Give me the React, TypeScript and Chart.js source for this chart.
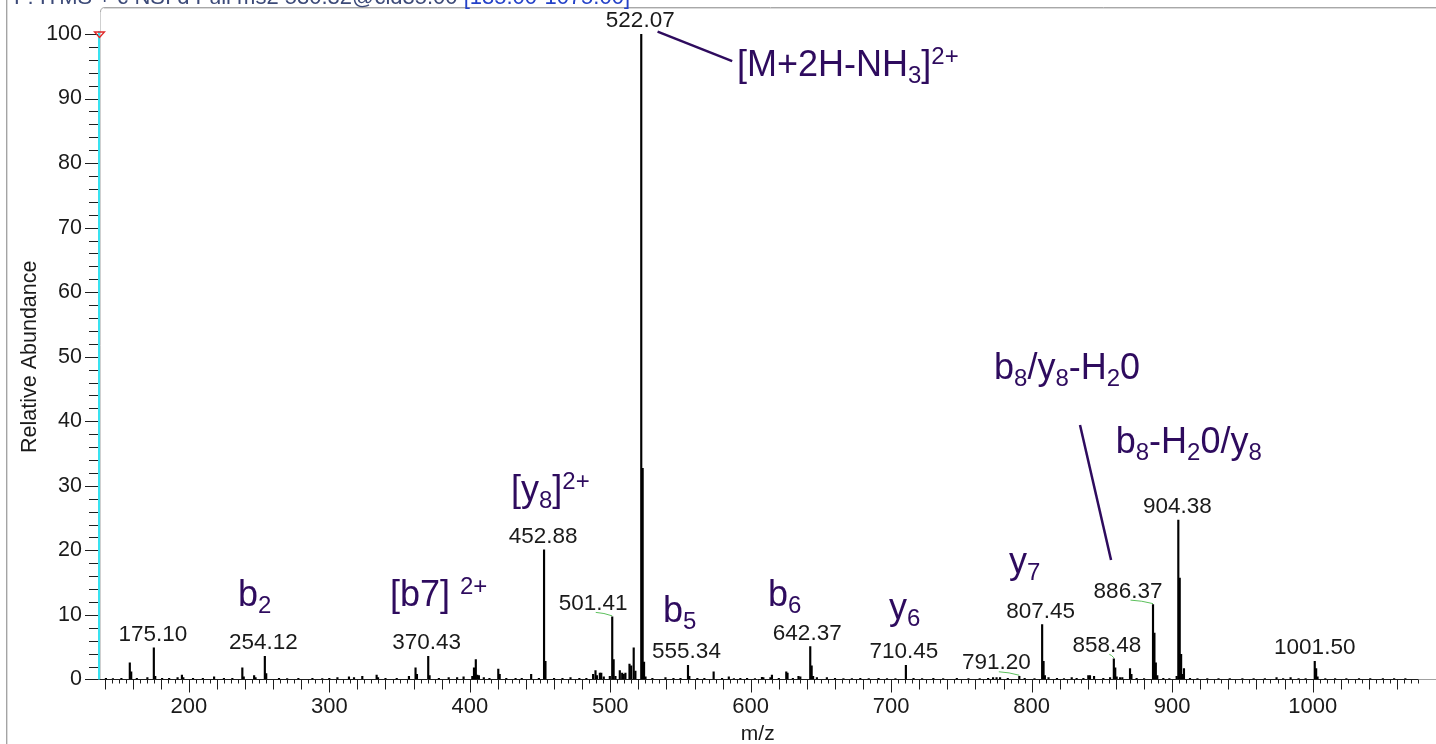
import React, { useEffect, useRef } from 'react';
import { Chart, registerables } from 'chart.js';

Chart.register(...registerables);

const FONT = "'Liberation Sans', Arial, Helvetica, sans-serif";
const TEXT = '#1a1a1a';
const PURPLE = '#2e0b5e';
const GREEN = '#5cc05c';

// ---- spectrum data (m/z, relative abundance) ----
const peakMz = [
  141.0, 146.0, 152.0, 158.0, 159.0, 163.0, 170.5, 175.1, 176.1, 181.0, 186.0, 192.0, 195.1, 196.1,
  203.0, 210.0, 218.0, 225.0, 231.0, 238.1, 239.1, 246.5, 247.5, 254.12, 255.1, 264.2, 270.0, 278.0,
  288.0, 295.0, 300.0, 305.8, 314.0, 317.6, 323.5, 333.7, 334.7, 340.0, 348.0, 356.7, 361.4, 362.4,
  370.43, 371.4, 378.0, 385.0, 391.0, 395.6, 401.8, 403.0, 404.3, 405.3, 406.5, 410.0, 414.0, 420.3,
  421.3, 426.0, 432.6, 437.0, 443.7, 449.2, 452.88, 453.88, 460.0, 466.0, 471.7, 478.0, 483.0, 487.8,
  489.5, 490.5, 492.6, 493.6, 495.4, 499.7, 501.41, 502.41, 503.7, 506.8, 508.5, 509.6, 510.8, 513.7,
  514.9, 516.7, 517.9, 522.07, 523.07, 524.07, 525.1, 530.0, 539.3, 545.0, 550.0, 555.34, 556.3, 562.0,
  567.0, 573.6, 579.6, 584.4, 588.0, 592.6, 597.4, 603.0, 608.0, 609.0, 614.0, 615.1, 620.0, 625.3,
  626.2, 630.0, 634.0, 635.3, 642.37, 643.37, 644.4, 647.1, 654.2, 660.0, 666.0, 672.0, 678.0, 684.0,
  691.0, 697.0, 703.0, 710.45, 715.9, 722.0, 730.0, 737.0, 746.7, 755.0, 763.0, 769.0, 772.5, 775.0,
  777.5, 783.0, 791.2, 795.0, 802.0, 807.45, 808.45, 809.4, 812.0, 818.0, 823.0, 828.5, 832.0, 836.8,
  840.3, 841.5, 844.4, 851.0, 855.8, 858.48, 859.48, 860.5, 862.9, 864.5, 870.0, 871.0, 874.7, 880.0,
  886.37, 887.37, 888.37, 889.4, 893.7, 898.0, 903.2, 904.38, 905.38, 906.38, 907.4, 908.4, 912.7, 918.0,
  925.0, 933.0, 941.0, 950.0, 958.0, 966.0, 974.3, 979.0, 984.3, 990.0, 995.0, 1001.5, 1002.5, 1003.5,
  1009.0, 1016.0, 1024.0, 1033.0, 1041.0, 1050.0, 1058.0, 1066.0,
];
const peakIntensity = [
  0.2, 0.15, 0.2, 2.6, 1.2, 0.2, 0.3, 4.9, 0.5, 0.2, 0.2, 0.3, 0.7, 0.3,
  0.2, 0.2, 0.4, 0.2, 0.2, 1.8, 0.4, 0.6, 0.3, 3.6, 0.9, 0.2, 0.15, 0.2,
  0.2, 0.15, 0.2, 0.3, 0.4, 0.3, 0.5, 0.7, 0.3, 0.2, 0.2, 0.5, 1.8, 0.8,
  3.6, 0.6, 0.2, 0.3, 0.3, 0.4, 0.5, 1.8, 3.1, 0.7, 0.6, 0.3, 0.2, 1.6,
  0.8, 0.2, 0.2, 0.2, 0.8, 0.2, 20.1, 2.8, 0.2, 0.2, 0.3, 0.2, 0.2, 0.8,
  1.4, 0.6, 1.0, 1.0, 0.4, 0.5, 9.7, 3.1, 0.5, 1.4, 1.0, 0.8, 1.0, 2.4,
  2.1, 4.9, 1.3, 100, 32.7, 2.7, 0.4, 0.2, 0.3, 0.2, 0.2, 2.2, 0.5, 0.2,
  0.2, 1.2, 0.2, 0.4, 0.15, 0.2, 0.2, 0.15, 0.35, 0.3, 0.3, 0.7, 0.2, 1.2,
  1.0, 0.2, 0.5, 0.4, 5.1, 2.1, 0.5, 0.3, 0.3, 0.2, 0.15, 0.15, 0.2, 0.15,
  0.2, 0.15, 0.15, 2.2, 0.2, 0.15, 0.2, 0.15, 0.2, 0.15, 0.15, 0.2, 0.3, 0.3,
  0.3, 0.2, 0.5, 0.2, 0.15, 8.5, 2.8, 0.6, 0.3, 0.2, 0.15, 0.3, 0.2, 0.2,
  0.6, 0.6, 0.5, 0.2, 0.3, 3.2, 1.8, 0.4, 0.3, 0.3, 1.7, 0.8, 0.2, 0.15,
  11.6, 7.2, 2.6, 0.6, 0.2, 0.15, 0.5, 24.7, 15.7, 3.9, 0.8, 1.7, 0.2, 0.15,
  0.15, 0.15, 0.15, 0.15, 0.15, 0.15, 0.3, 0.15, 0.3, 0.15, 0.15, 2.8, 1.7, 0.4,
  0.15, 0.15, 0.15, 0.15, 0.15, 0.15, 0.15, 0.15,
];

// ---- axes ----
const xTickValues = [200, 300, 400, 500, 600, 700, 800, 900, 1000];
const yTickValues = [0, 10, 20, 30, 40, 50, 60, 70, 80, 90, 100];
const xRange = [135, 1075];

// ---- peak labels ----
const labeledMz = [175.1, 254.12, 370.43, 452.88, 501.41, 522.07, 555.34, 642.37, 710.45, 791.2, 807.45, 858.48, 886.37, 904.38, 1001.5];
const labelShiftPx = [-1, -1.5, -1.5, -1, -19, -1, -1.5, -3, -2, -23, -1.5, -7, -25, -1, 0];
const labelHasLeader = [false, false, false, false, true, false, false, false, false, true, false, true, true, false, false];

// ---- ion annotations ----
const ionText = ['b_{2}', '[b7] ^{2+}', '[y_{8}]^{2+}', 'b_{5}', 'b_{6}', 'y_{6}', 'y_{7}', 'b_{8}/y_{8}-H_{2}0', 'b_{8}-H_{2}0/y_{8}', '[M+2H-NH_{3}]^{2+}'];
const ionMz = [235.0, 343.2, 429.3, 537.5, 612.3, 698.4, 783.9, 773.2, 859.8, 590.2];
const ionLevel = [11.4, 11.4, 27.65, 8.95, 11.43, 9.37, 16.5, 46.55, 35.13, 93.49];

// ---- annotation leader lines ----
const leaderMz = [[533.7, 586.8], [834.4, 856.5]];
const leaderLevel = [[100.36, 95.81], [39.43, 18.51]];

const titleMain = 'F: ITMS + c NSI d Full ms2 530.32@cid35.00';
const titleRange = ' [135.00-1075.00]';

type Seg = { t: string; k: 'n' | 'sub' | 'sup' };
function parseRich(s: string): Seg[] {
  const out: Seg[] = [];
  const re = /(_|\^)\{([^}]*)\}|([^_^]+)/g;
  let m: RegExpExecArray | null;
  while ((m = re.exec(s))) {
    if (m[3]) out.push({ t: m[3], k: 'n' });
    else out.push({ t: m[2], k: m[1] === '_' ? 'sub' : 'sup' });
  }
  return out;
}

const spectrumPlugin = {
  id: 'spectrumDecor',
  afterDraw(chart: any) {
    const ctx: CanvasRenderingContext2D = chart.ctx;
    const xs = chart.scales.x;
    const ys = chart.scales.y;
    const area = chart.chartArea;
    const W = chart.width;
    const H = chart.height;
    ctx.save();

    // outer frame
    ctx.lineWidth = 1;
    ctx.strokeStyle = '#a4a4a4';
    ctx.beginPath();
    ctx.moveTo(6.5, 0); ctx.lineTo(6.5, H);
    ctx.stroke();
    ctx.strokeStyle = '#dcdcdc';
    ctx.beginPath();
    ctx.moveTo(7.5, 0); ctx.lineTo(7.5, H);
    ctx.stroke();
    ctx.strokeStyle = '#a8a8a8';
    ctx.beginPath();
    ctx.moveTo(100.5, 12); ctx.quadraticCurveTo(100.5, 7.5, 105, 7.5); ctx.lineTo(W, 7.5);
    ctx.stroke();
    ctx.strokeStyle = '#dadada';
    ctx.beginPath();
    ctx.moveTo(104, 8.5); ctx.lineTo(W, 8.5);
    ctx.stroke();
    ctx.strokeStyle = '#cfcfcf';
    ctx.beginPath();
    ctx.moveTo(100.5, 12); ctx.lineTo(100.5, area.bottom);
    ctx.stroke();

    // title (clipped by canvas top)
    ctx.font = `22px ${FONT}`;
    ctx.textAlign = 'left';
    ctx.textBaseline = 'alphabetic';
    ctx.fillStyle = '#3c4a78';
    ctx.fillText(titleMain, 14, 4);
    const tw = ctx.measureText(titleMain).width;
    ctx.fillStyle = '#2442c8';
    ctx.fillText(titleRange, 14 + tw, 4);

    // x axis line
    const yAxis = Math.round(area.bottom) + 0.5 - 1;
    ctx.strokeStyle = '#1e1e1e';
    ctx.beginPath();
    ctx.moveTo(area.left, yAxis); ctx.lineTo(area.right, yAxis);
    ctx.stroke();
    ctx.strokeStyle = '#a0a0a0';
    ctx.beginPath();
    ctx.moveTo(area.right, yAxis); ctx.lineTo(W, yAxis);
    ctx.stroke();

    // x ticks
    ctx.strokeStyle = '#1e1e1e';
    ctx.beginPath();
    for (let v = 140; v <= xRange[1]; v += 5) {
      const px = Math.round(xs.getPixelForValue(v)) + 0.5;
      const len = v % 100 === 0 ? 13 : v % 20 === 0 ? 10 : 4;
      ctx.moveTo(px, yAxis); ctx.lineTo(px, yAxis + len);
    }
    ctx.stroke();

    // y ticks
    ctx.beginPath();
    for (let v = 0; v <= 100; v += 2) {
      const py = Math.round(ys.getPixelForValue(v)) + 0.5 - (v === 0 ? 1 : 0);
      const x0 = v % 10 === 0 ? 85 : 89;
      ctx.moveTo(x0, py); ctx.lineTo(area.left + 0.5, py);
    }
    ctx.stroke();

    // cyan y axis
    ctx.fillStyle = '#38e2f0';
    ctx.fillRect(98, 31, 2, area.bottom - 31);

    // red marker at 100
    const ty = ys.getPixelForValue(100);
    ctx.strokeStyle = '#e02828';
    ctx.lineWidth = 1.3;
    ctx.beginPath();
    ctx.moveTo(94.5, ty - 2); ctx.lineTo(104.5, ty - 2); ctx.lineTo(99.5, ty + 3.5); ctx.closePath();
    ctx.stroke();

    // peak labels
    ctx.font = `22.5px ${FONT}`;
    ctx.textAlign = 'center';
    ctx.fillStyle = TEXT;
    labeledMz.forEach((mz, i) => {
      let best = 0;
      for (let j = 1; j < peakMz.length; j++) {
        if (Math.abs(peakMz[j] - mz) < Math.abs(peakMz[best] - mz)) best = j;
      }
      const px = xs.getPixelForValue(peakMz[best]);
      const top = ys.getPixelForValue(peakIntensity[best]);
      const cx = px + labelShiftPx[i];
      const base = top - 7;
      ctx.fillText(mz.toFixed(2), cx, base);
      if (labelHasLeader[i]) {
        ctx.save();
        ctx.strokeStyle = GREEN;
        ctx.lineWidth = 1;
        ctx.beginPath();
        const sx = cx + 2.5;
        const sy = base + 2.5;
        ctx.moveTo(sx, sy);
        ctx.quadraticCurveTo((sx + px) / 2, sy + 0.5, px, top - 1);
        ctx.stroke();
        ctx.restore();
      }
    });

    // ion annotations
    ctx.fillStyle = PURPLE;
    ctx.textAlign = 'left';
    ionText.forEach((txt, i) => {
      let cx = xs.getPixelForValue(ionMz[i]);
      const by = ys.getPixelForValue(ionLevel[i]);
      for (const s of parseRich(txt)) {
        const size = s.k === 'n' ? 36 : s.k === 'sub' ? 24 : 24;
        const dy = s.k === 'sub' ? 7 : s.k === 'sup' ? -12 : 0;
        ctx.font = `${size}px ${FONT}`;
        ctx.fillText(s.t, cx, by + dy);
        cx += ctx.measureText(s.t).width;
      }
    });

    // leader lines
    ctx.strokeStyle = PURPLE;
    ctx.lineWidth = 2.5;
    leaderMz.forEach((pair, i) => {
      ctx.beginPath();
      ctx.moveTo(xs.getPixelForValue(pair[0]), ys.getPixelForValue(leaderLevel[i][0]));
      ctx.lineTo(xs.getPixelForValue(pair[1]), ys.getPixelForValue(leaderLevel[i][1]));
      ctx.stroke();
    });

    ctx.restore();
  },
};

export default function App() {
  const ref = useRef<HTMLCanvasElement | null>(null);
  useEffect(() => {
    if (!ref.current) return;
    Chart.defaults.font.family = FONT;
    const chart = new Chart(ref.current, {
      type: 'bar',
      data: {
        datasets: [
          {
            data: peakMz.map((m, i) => ({ x: m, y: peakIntensity[i] })),
            backgroundColor: '#000000',
            borderWidth: 0,
            barThickness: 1.5,
          } as any,
        ],
      },
      options: {
        animation: false,
        responsive: false,
        events: [],
        layout: { padding: { top: 34, right: 18, left: 0, bottom: 0 } },
        plugins: { legend: { display: false }, tooltip: { enabled: false } },
        scales: {
          x: {
            type: 'linear',
            min: xRange[0],
            max: xRange[1],
            offset: false,
            bounds: 'data',
            afterBuildTicks: (s: any) => { s.ticks = xTickValues.map((v) => ({ value: v })); },
            afterFit: (s: any) => { s.height = 64.5; },
            grid: { display: false, drawTicks: true, tickLength: 13, offset: false },
            border: { display: false },
            ticks: { padding: 1, color: TEXT, font: { size: 22, family: FONT }, autoSkip: false, maxRotation: 0, callback: (v: any) => String(v) },
            title: { display: true, text: 'm/z', color: TEXT, font: { size: 21, family: FONT }, padding: { top: 0, bottom: -3 } },
          },
          y: {
            type: 'linear',
            min: 0,
            max: 100,
            offset: false,
            afterBuildTicks: (s: any) => { s.ticks = yTickValues.map((v) => ({ value: v })); },
            afterFit: (s: any) => { s.width = 97.5; },
            grid: { display: false, drawTicks: true, tickLength: 13 },
            border: { display: false },
            ticks: { padding: 2.5, color: TEXT, font: { size: 21.5, family: FONT }, autoSkip: false, callback: (v: any) => String(v) },
            title: { display: true, text: 'Relative Abundance', color: TEXT, font: { size: 21.5, family: FONT }, padding: { top: 17, bottom: 0 } },
          },
        },
      } as any,
      plugins: [spectrumPlugin],
    });
    return () => chart.destroy();
  }, []);
  return (
    <div style={{ position: 'fixed', left: 0, top: 0, width: 1436, height: 744, background: '#ffffff' }}>
      <canvas ref={ref} width={1436} height={744} style={{ display: 'block' }} />
    </div>
  );
}
